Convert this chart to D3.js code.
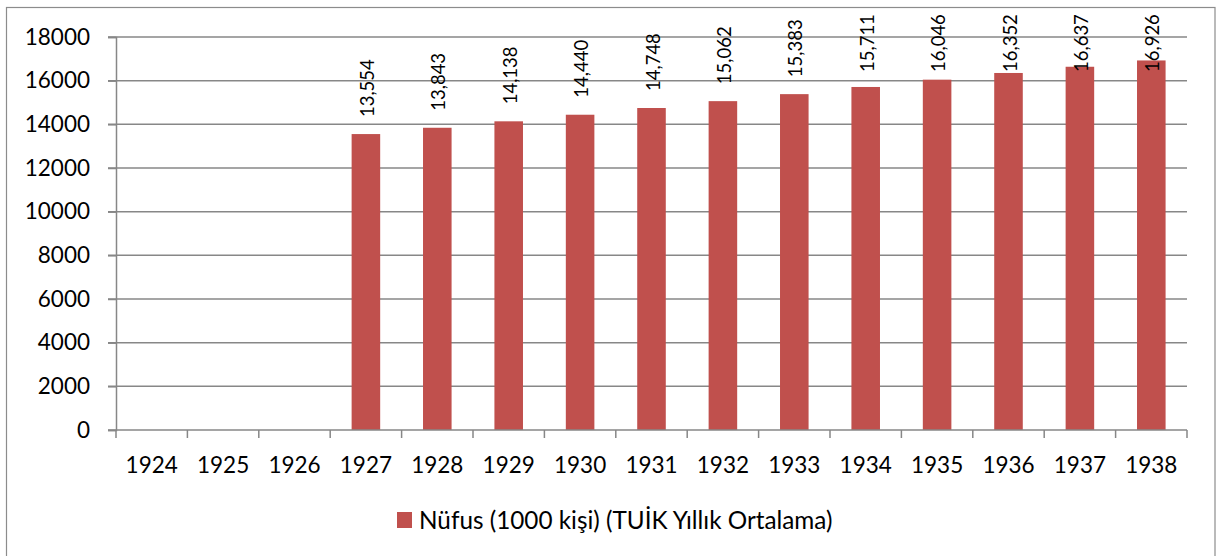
<!DOCTYPE html>
<html>
<head>
<meta charset="utf-8">
<script src="https://cdn.jsdelivr.net/npm/d3@7"></script>
<style>
  body { margin: 0; background: #fff; }
  svg { display: block; }
</style>
</head>
<body>
<svg id="chart" width="1216" height="556"></svg>
<script>
// data
var years = ["1924", "1925", "1926", "1927", "1928", "1929", "1930", "1931",
             "1932", "1933", "1934", "1935", "1936", "1937", "1938"];
var nufus = [null, null, null, 13554, 13843, 14138, 14440, 14748,
             15062, 15383, 15711, 16046, 16352, 16637, 16926];
var yTicks = [0, 2000, 4000, 6000, 8000, 10000, 12000, 14000, 16000, 18000];
var seriesName = "Nüfus (1000 kişi) (TUİK Yıllık Ortalama)";

var width = 1216, height = 556;
var margin = {top: 37, right: 29, bottom: 126, left: 116};
var font = "Lato, 'Open Sans', sans-serif";
var gridColor = "#878787";
var barColor = "#c0504d";

var svg = d3.select("#chart");

// outer frame
svg.append("rect")
  .attr("x", 6.5).attr("y", 7.5)
  .attr("width", width - 7.5).attr("height", height)
  .attr("fill", "none")
  .attr("stroke", "#8c8c8c")
  .attr("stroke-width", 1.2);

var x = d3.scaleBand()
  .domain(years)
  .range([margin.left, width - margin.right])
  .paddingInner(0.6)
  .paddingOuter(0.3);

var y = d3.scaleLinear()
  .domain([0, 18000])
  .range([height - margin.bottom, margin.top]);

// band edges for the category tick marks
var step = x.step();
var x0 = margin.left;

// gridlines
svg.append("g")
  .selectAll("line")
  .data(yTicks.filter(function(d) { return d > 0; }))
  .join("line")
  .attr("x1", x0 - 8).attr("x2", width - margin.right)
  .attr("y1", function(d) { return y(d); })
  .attr("y2", function(d) { return y(d); })
  .attr("stroke", gridColor)
  .attr("stroke-width", 1.5);

// bars
var data = years.map(function(d, i) { return {year: d, value: nufus[i]}; })
  .filter(function(d) { return d.value != null; });

svg.append("g")
  .selectAll("rect")
  .data(data)
  .join("rect")
  .attr("x", function(d) { return x(d.year); })
  .attr("width", x.bandwidth())
  .attr("y", function(d) { return y(d.value); })
  .attr("height", function(d) { return y(0) - y(d.value); })
  .attr("fill", barColor);

// y axis
var yAxis = svg.append("g")
  .attr("transform", "translate(" + x0 + ",0)")
  .call(d3.axisLeft(y).tickValues(yTicks).tickSize(8).tickPadding(18).tickFormat(d3.format("d")));
yAxis.select(".domain").attr("stroke", gridColor).attr("stroke-width", 1.5);
yAxis.selectAll(".tick line").attr("stroke", gridColor).attr("stroke-width", 1.5);
yAxis.selectAll("text")
  .attr("font-family", font)
  .attr("font-size", "22.5px")
  .attr("fill", "#000");

// x axis line and category ticks
var xg = svg.append("g");
xg.append("line")
  .attr("x1", x0 - 8).attr("x2", width - margin.right)
  .attr("y1", y(0)).attr("y2", y(0))
  .attr("stroke", gridColor).attr("stroke-width", 1.5);
xg.selectAll(".tk")
  .data(d3.range(years.length + 1))
  .join("line")
  .attr("class", "tk")
  .attr("x1", function(i) { return x0 + i * step; })
  .attr("x2", function(i) { return x0 + i * step; })
  .attr("y1", y(0)).attr("y2", y(0) + 8)
  .attr("stroke", gridColor).attr("stroke-width", 1.5);
xg.selectAll("text")
  .data(years)
  .join("text")
  .attr("x", function(d) { return x(d) + x.bandwidth() / 2; })
  .attr("y", y(0) + 43)
  .attr("text-anchor", "middle")
  .attr("font-family", font)
  .attr("font-size", "22.5px")
  .text(function(d) { return d; });

// value labels, rotated, kept below the top of the chart
var fmt = d3.format(",");
svg.append("g")
  .selectAll("text")
  .data(data)
  .join("text")
  .attr("transform", function(d) {
    var ly = Math.max(y(d.value) - 17, margin.top + 35);
    return "translate(" + (x(d.year) + x.bandwidth() / 2 + 1) + "," + ly + ") rotate(-90)";
  })
  .attr("dominant-baseline", "central")
  .attr("font-family", font)
  .attr("font-size", "18.5px")
  .text(function(d) { return fmt(d.value); });

// legend
var legend = svg.append("g").attr("transform", "translate(397,512)");
legend.append("rect")
  .attr("width", 15).attr("height", 16)
  .attr("fill", barColor);
legend.append("text")
  .attr("x", 22).attr("y", 17)
  .attr("font-family", font)
  .attr("font-size", "24.3px")
  .text(seriesName);
</script>
</body>
</html>
